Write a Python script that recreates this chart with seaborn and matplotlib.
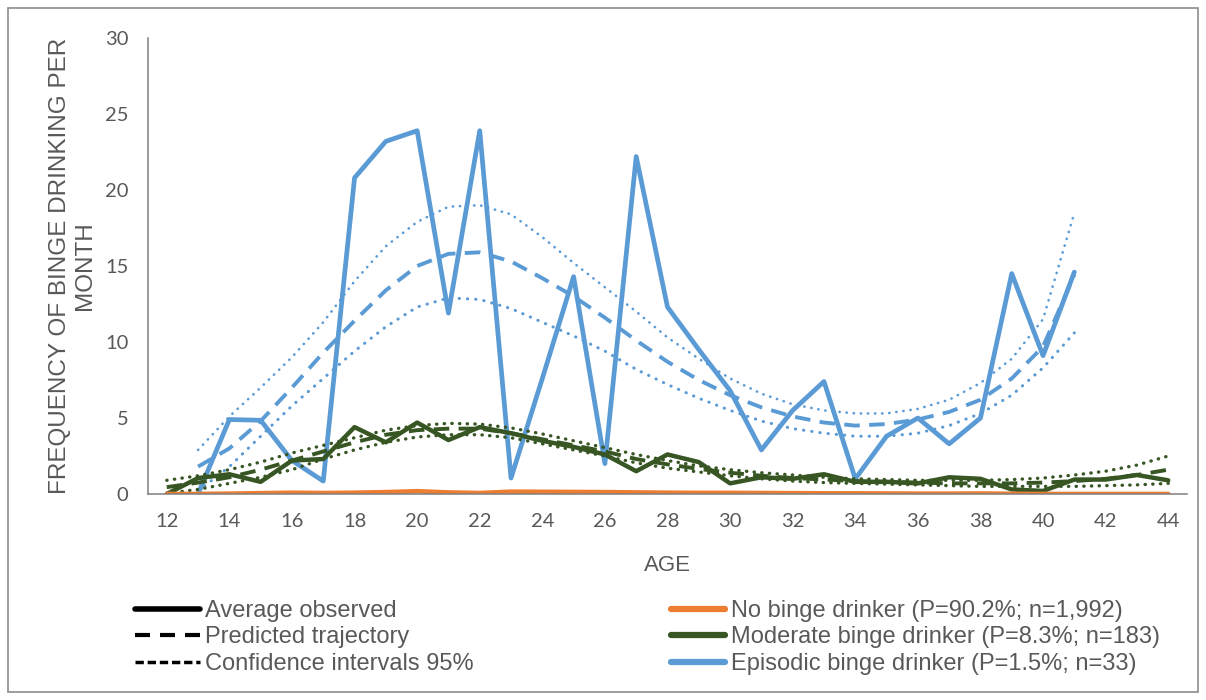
import matplotlib
matplotlib.use('Agg')
import matplotlib.pyplot as plt
from matplotlib.lines import Line2D
from matplotlib.patches import Rectangle
import seaborn as sns

# ages for the whole sample and for the episodic class (13-41)
ages = list(range(12, 45))
ages_epi = list(range(13, 42))

# no binge drinker - observed
no_obs = [0, 0, 0.02, 0.05, 0.08, 0.06, 0.08, 0.12, 0.18, 0.1, 0.06, 0.15, 0.14, 0.13,
          0.12, 0.1, 0.08, 0.07, 0.07, 0.06, 0.05, 0.04, 0.04, 0.03, 0.02, 0.02, 0.03,
          0.01, 0, 0, 0, 0, 0]

# moderate binge drinker
mod_obs = [0, 1.05, 1.3, 0.8, 2.2, 2.3, 4.4, 3.4, 4.7, 3.55, 4.4, 4.0, 3.5, 3.1, 2.6,
           1.5, 2.6, 2.1, 0.7, 1.1, 1.0, 1.3, 0.8, 0.8, 0.7, 1.1, 1.0, 0.3, 0.2, 0.95,
           0.95, 1.25, 0.9]
mod_pred = [0.45, 0.75, 1.1, 1.6, 2.2, 2.8, 3.4, 3.9, 4.2, 4.3, 4.3, 4.0, 3.6, 3.2, 2.8,
            2.3, 1.95, 1.65, 1.4, 1.2, 1.05, 0.95, 0.85, 0.8, 0.75, 0.7, 0.7, 0.7, 0.75,
            0.85, 1.0, 1.25, 1.6]
mod_hi = [0.9, 1.2, 1.6, 2.1, 2.7, 3.2, 3.7, 4.2, 4.5, 4.65, 4.6, 4.35, 3.95, 3.5, 3.05,
          2.6, 2.2, 1.85, 1.6, 1.4, 1.25, 1.1, 1.0, 0.95, 0.9, 0.9, 0.9, 0.95, 1.05, 1.25,
          1.5, 1.9, 2.5]
mod_lo = [0.05, 0.3, 0.7, 1.1, 1.6, 2.3, 2.9, 3.4, 3.75, 3.9, 3.9, 3.7, 3.3, 2.9, 2.5,
          2.05, 1.7, 1.45, 1.2, 1.0, 0.85, 0.75, 0.7, 0.65, 0.6, 0.55, 0.5, 0.5, 0.5, 0.5,
          0.55, 0.6, 0.7]

# episodic binge drinker
epi_obs = [0, 4.9, 4.85, 2.2, 0.85, 20.8, 23.2, 23.9, 11.9, 23.9, 1.05, 7.6, 14.3, 2.0,
           22.2, 12.3, 9.5, 6.8, 2.9, 5.5, 7.4, 1.0, 3.8, 5.0, 3.3, 5.0, 14.5, 9.1, 14.6]
epi_pred = [1.8, 3.0, 4.8, 7.0, 9.3, 11.4, 13.4, 15.0, 15.8, 15.9, 15.3, 14.2, 13.0, 11.6,
            10.1, 8.7, 7.5, 6.5, 5.7, 5.1, 4.7, 4.5, 4.6, 4.9, 5.4, 6.2, 7.6, 9.7, 14.4]
epi_hi = [2.9, 5.1, 7.0, 9.0, 11.3, 14.0, 16.3, 17.9, 18.9, 19.0, 18.4, 16.9, 15.2, 13.6,
          12.0, 10.3, 8.9, 7.6, 6.6, 5.9, 5.5, 5.3, 5.3, 5.6, 6.2, 7.3, 8.9, 11.5, 18.5]
epi_lo = [0.2, 1.8, 3.8, 5.8, 7.6, 9.4, 11.0, 12.3, 12.9, 12.8, 12.2, 11.3, 10.4, 9.4,
          8.2, 7.2, 6.3, 5.5, 4.8, 4.3, 4.0, 3.8, 3.8, 4.0, 4.5, 5.3, 6.5, 8.3, 10.6]

class_labels = ['No binge drinker (P=90.2%; n=1,992)',
                'Moderate binge drinker (P=8.3%; n=183)',
                'Episodic binge drinker (P=1.5%; n=33)']
style_labels = ['Average observed', 'Predicted trajectory', 'Confidence intervals 95%']

ORANGE = '#ED7D31'
GREEN = '#375623'
BLUE = '#5B9BD5'
GREY = '#595959'

sns.set_style('white')
plt.rcParams['font.family'] = ['Liberation Sans', 'DejaVu Sans']

fig = plt.figure(figsize=(12.06, 7), dpi=100)
ax = fig.add_axes([148/1206, 1-494/700, (1187-148)/1206, (494-38)/700])

dash = (0, (4, 2.4))
dot = (0, (0.1, 2.6))

# episodic
sns.lineplot(x=ages_epi, y=epi_hi, ax=ax, color=BLUE, lw=1.9, linestyle=dot,
             dash_capstyle='round', errorbar=None)
sns.lineplot(x=ages_epi, y=epi_lo, ax=ax, color=BLUE, lw=2.2, linestyle=dot,
             dash_capstyle='round', errorbar=None)
sns.lineplot(x=ages_epi, y=epi_pred, ax=ax, color=BLUE, lw=2.8, linestyle=dash, errorbar=None)
sns.lineplot(x=ages_epi, y=epi_obs, ax=ax, color=BLUE, lw=3.4, errorbar=None)

# moderate
sns.lineplot(x=ages, y=mod_hi, ax=ax, color=GREEN, lw=2.4, linestyle=(0, (0.1, 2.2)),
             dash_capstyle='round', errorbar=None)
sns.lineplot(x=ages, y=mod_lo, ax=ax, color=GREEN, lw=2.4, linestyle=(0, (0.1, 2.2)),
             dash_capstyle='round', errorbar=None)
sns.lineplot(x=ages, y=mod_pred, ax=ax, color=GREEN, lw=2.8, linestyle=dash, errorbar=None)
sns.lineplot(x=ages, y=mod_obs, ax=ax, color=GREEN, lw=3.2, errorbar=None)

# no binge
sns.lineplot(x=ages, y=no_obs, ax=ax, color=ORANGE, lw=3.4, errorbar=None)

ax.set_xlim(11.4, 44.6)
ax.set_ylim(0, 30)
ax.set_xticks(ages)
ax.set_xticklabels([str(a) if a % 2 == 0 else '' for a in ages])
ax.set_yticks(range(0, 31, 5))
for lab in ax.get_xticklabels() + ax.get_yticklabels():
    lab.set_fontfamily('Lato')
    lab.set_fontsize(14.5)
    lab.set_color(GREY)
ax.tick_params(axis='both', direction='out', length=5, width=1.1, color='#7f7f7f', pad=9)

sns.despine(ax=ax)
for s in ['left', 'bottom']:
    ax.spines[s].set_color('#7f7f7f')
    ax.spines[s].set_linewidth(1.1)

ax.set_xlabel('AGE', fontsize=16, color=GREY)
ax.xaxis.set_label_coords(0.5, -0.134)
ax.xaxis.label.set_va('top')
ax.set_ylabel('FREQUENCY OF BINGE DRINKING PER\nMONTH', fontsize=17.5, color=GREY,
              linespacing=1.15)
ax.yaxis.set_label_coords(-0.05, 0.5)

# legends
style_handles = [
    Line2D([], [], color='black', lw=4),
    Line2D([], [], color='black', lw=3, linestyle=(0, (3.6, 2.4))),
    Line2D([], [], color='black', lw=2.5, linestyle=(0, (2.4, 1.1))),
]
class_handles = [Line2D([], [], color=c, lw=4.5, solid_capstyle='round')
                 for c in [ORANGE, GREEN, BLUE]]

leg_kw = dict(frameon=False, fontsize=17, labelcolor=GREY, borderpad=0,
              borderaxespad=0, labelspacing=0.19, loc='upper left')
fig.legend(style_handles, style_labels, bbox_to_anchor=(135/1206, 1-600/700),
           handlelength=2.75, handletextpad=0.22, **leg_kw)
fig.legend(class_handles, class_labels, bbox_to_anchor=(671/1206, 1-600/700),
           handlelength=2.3, handletextpad=0.25, **leg_kw)

# outer frame
fig.add_artist(Rectangle((8/1206, 8/700), 1190/1206, 684/700, transform=fig.transFigure,
                         fill=False, edgecolor='#8c8c8c', lw=1.2))

fig.savefig('out.png', dpi=100)
